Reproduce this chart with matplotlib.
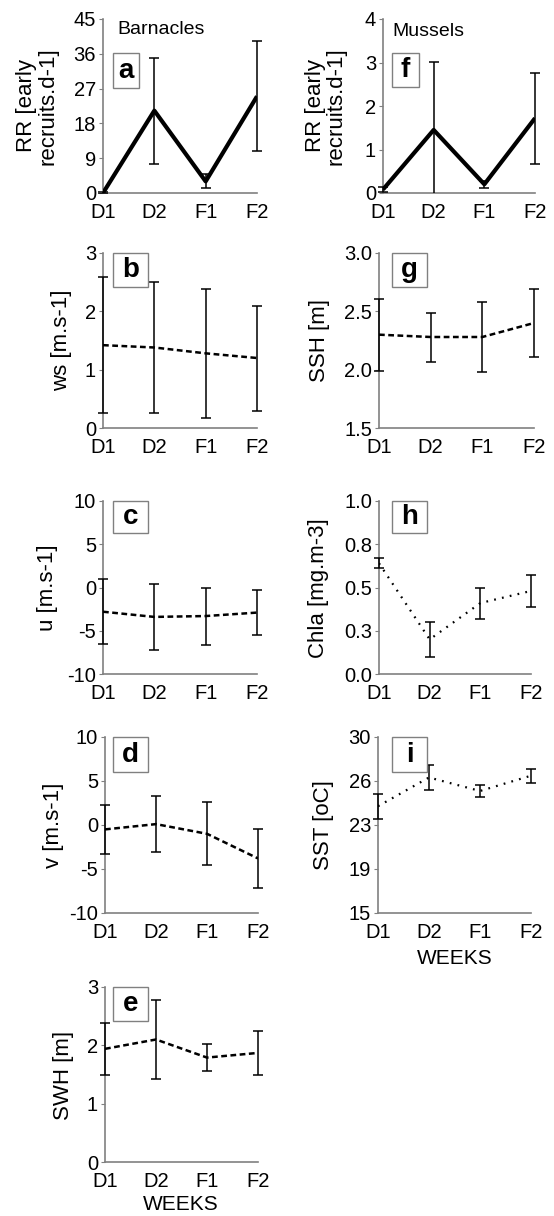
import matplotlib
matplotlib.use("Agg")
import matplotlib.pyplot as plt
from matplotlib.patches import Rectangle
from matplotlib.transforms import Bbox, TransformedBbox

plt.rcParams['font.family'] = ['Liberation Sans', 'DejaVu Sans']

weeks = ["D1", "D2", "F1", "F2"]

# Barnacles column
rr_barn = [0.0, 21.3, 3.0, 25.0]
rr_barn_err = [0.2, 13.7, 1.8, 14.2]
ws = [1.42, 1.38, 1.28, 1.20]
ws_err = [1.17, 1.13, 1.10, 0.90]
u = [-2.8, -3.4, -3.3, -2.9]
u_err = [3.75, 3.8, 3.3, 2.6]
v = [-0.5, 0.1, -1.0, -3.8]
v_err = [2.8, 3.2, 3.6, 3.4]
swh = [1.94, 2.10, 1.79, 1.87]
swh_err = [0.44, 0.68, 0.23, 0.37]

# Mussels column
rr_mus = [0.08, 1.45, 0.20, 1.72]
rr_mus_err = [0.05, 1.57, 0.08, 1.05]
ssh = [2.30, 2.28, 2.28, 2.40]
ssh_err = [0.31, 0.21, 0.30, 0.29]
chla = [0.64, 0.20, 0.41, 0.48]
chla_err = [0.03, 0.10, 0.09, 0.095]
sst = [24.1, 26.55, 25.4, 26.7]
sst_err = [1.05, 1.05, 0.55, 0.6]

W, H = 554, 1216
fig = plt.figure(figsize=(W / 100, H / 100), dpi=100)

GRAY = '#808080'
TICK_FS = 14.5
YLAB_FS = 16

def add_ax(l, r, t, b):
    return fig.add_axes([l / W, 1 - b / H, (r - l) / W, (b - t) / H])

def style(ax, yticks, ylabels, ylim):
    ax.set_xlim(0, 3)
    ax.set_ylim(*ylim)
    ax.set_xticks(range(4))
    ax.set_xticklabels(weeks)
    ax.set_yticks(yticks)
    ax.set_yticklabels(ylabels)
    for s in ['top', 'right']:
        ax.spines[s].set_visible(False)
    for s in ['left', 'bottom']:
        ax.spines[s].set_color(GRAY)
        ax.spines[s].set_linewidth(1.2)
    ax.tick_params(axis='x', length=0, pad=7, labelsize=TICK_FS)
    ax.tick_params(axis='y', length=3, color=GRAY, pad=2, labelsize=TICK_FS)

def plot(ax, vals, errs, kind):
    x = range(4)
    if kind == 'solid':
        ls, lw = '-', 3.0
    elif kind == 'dashed':
        ls, lw = (0, (2.3, 1.4)), 1.8
    else:
        ls, lw = (0, (0.8, 2.8)), 1.6
    cont = ax.errorbar(x, vals, yerr=errs, fmt='none', ecolor='black', elinewidth=1.1,
                       capsize=3.5, capthick=1.1, zorder=3)
    clip = TransformedBbox(Bbox([[-0.1, 0.0], [1.1, 1.0]]), ax.transAxes)
    for art in cont.get_children():
        art.set_clip_box(clip)
    ax.plot(x, vals, color='black', linestyle=ls, linewidth=lw, zorder=4,
            solid_capstyle='butt')

def letter_box(l, r, t, b, txt):
    fig.patches.append(Rectangle((l / W, 1 - b / H), (r - l) / W, (b - t) / H,
                                 transform=fig.transFigure, facecolor='white',
                                 edgecolor=GRAY, linewidth=1.0, zorder=10))
    fig.text((l + r) / 2 / W, 1 - (t + b) / 2 / H, txt, ha='center', va='center',
             fontsize=20, fontweight='bold', zorder=11)

def ylab(x, y, txt, size=YLAB_FS):
    fig.text(x / W, 1 - y / H, txt, rotation=90, ha='center', va='center',
             fontsize=size, linespacing=1.0)

# Panel a
ax = add_ax(103, 257, 19, 193)
style(ax, [0, 9, 18, 27, 36, 45], ['0', '9', '18', '27', '36', '45'], (0, 45))
plot(ax, rr_barn, rr_barn_err, 'solid')
ylab(37, 106, "RR [early\nrecruits.d-1]")
letter_box(113, 139, 53, 88, 'a')
fig.text(117 / W, 1 - 30 / H, 'Barnacles', ha='left', va='center', fontsize=14)

# Panel b
ax = add_ax(103, 257, 253, 428)
style(ax, [0, 1, 2, 3], ['0', '1', '2', '3'], (0, 3))
plot(ax, ws, ws_err, 'dashed')
ylab(62, 340, "ws [m.s-1]")
letter_box(113, 148, 253, 287, 'b')

# Panel c
ax = add_ax(103, 257, 501, 674)
style(ax, [-10, -5, 0, 5, 10], ['-10', '-5', '0', '5', '10'], (-10, 10))
plot(ax, u, u_err, 'dashed')
ylab(47, 588, "u [m.s-1]")
letter_box(113, 148, 501, 533, 'c')

# Panel d
ax = add_ax(105, 258, 737, 913)
style(ax, [-10, -5, 0, 5, 10], ['-10', '-5', '0', '5', '10'], (-10, 10))
plot(ax, v, v_err, 'dashed')
ylab(53, 825, "v [m.s-1]")
letter_box(113, 148, 737, 772, 'd')

# Panel e
ax = add_ax(105, 258, 987, 1162)
style(ax, [0, 1, 2, 3], ['0', '1', '2', '3'], (0, 3))
plot(ax, swh, swh_err, 'dashed')
ylab(63, 1075, "SWH [m]")
letter_box(113, 148, 987, 1021, 'e')
fig.text(181 / W, 1 - 1205 / H, 'WEEKS', ha='center', va='center', fontsize=15)

# Panel f
ax = add_ax(383, 535, 19, 193)
style(ax, [0, 1, 2, 3, 4], ['0', '1', '2', '3', '4'], (0, 4))
plot(ax, rr_mus, rr_mus_err, 'solid')
ylab(326, 106, "RR [early\nrecruits.d-1]")
letter_box(392, 419, 53, 87, 'f')
fig.text(392 / W, 1 - 31 / H, 'Mussels', ha='left', va='center', fontsize=14)

# Panel g
ax = add_ax(379, 534, 253, 428)
style(ax, [1.5, 2.0, 2.5, 3.0], ['1.5', '2.0', '2.5', '3.0'], (1.5, 3.0))
plot(ax, ssh, ssh_err, 'dashed')
ylab(319, 340, "SSH [m]")
letter_box(392, 427, 253, 287, 'g')

# Panel h
ax = add_ax(379, 531, 501, 674)
style(ax, [0, 0.25, 0.5, 0.75, 1.0], ['0.0', '0.3', '0.5', '0.8', '1.0'], (0, 1))
plot(ax, chla, chla_err, 'dotted')
ylab(318, 588, "Chla [mg.m-3]")
letter_box(392, 427, 501, 533, 'h')

# Panel i
ax = add_ax(378, 531, 737, 913)
style(ax, [15, 18.75, 22.5, 26.25, 30], ['15', '19', '23', '26', '30'], (15, 30))
plot(ax, sst, sst_err, 'dotted')
ylab(324, 825, "SST [oC]")
letter_box(392, 427, 737, 772, 'i')
fig.text(455 / W, 1 - 958 / H, 'WEEKS', ha='center', va='center', fontsize=15)

fig.savefig('out.png', dpi=100, facecolor='white')
